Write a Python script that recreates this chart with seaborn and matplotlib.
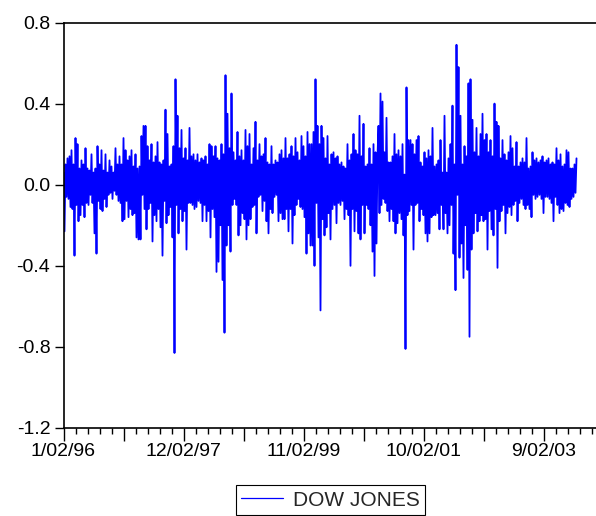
import numpy as np
import pandas as pd
import matplotlib
matplotlib.use("Agg")
import matplotlib.pyplot as plt
import seaborn as sns
from matplotlib.ticker import FixedLocator, FixedFormatter

# Daily Dow Jones series, sampled every 4th trading day, grouped by year
dj_1996 = [0.06, -0.23, 0.10, -0.06, 0.13, -0.07, 0.14, -0.11, 0.17, -0.12, 0.10, -0.35,
           0.23, -0.10, 0.20, -0.18, 0.08, -0.15, 0.12, -0.10, 0.10, -0.16, 0.18, -0.09,
           0.08, -0.10, 0.07, -0.05, 0.15, -0.09, 0.06, -0.24, 0.08, -0.34, 0.19, -0.08,
           0.10, -0.12, 0.17, -0.13, 0.07, -0.07, 0.15, -0.11, 0.06, -0.05, 0.12, -0.04,
           0.09, -0.07, 0.06, -0.03, 0.18, -0.05, 0.10, -0.08, 0.14, -0.09, 0.10, -0.18,
           0.23, -0.17, 0.17]
dj_1997 = [-0.08, 0.12, -0.16, 0.14, -0.12, 0.17, -0.15, 0.09, -0.14, 0.15, -0.26, 0.08,
           -0.27, 0.09, -0.27, 0.24, -0.05, 0.29, -0.12, 0.29, -0.22, 0.19, -0.12, 0.12,
           -0.09, 0.20, -0.28, 0.11, -0.15, 0.14, -0.18, 0.21, -0.12, 0.11, -0.21, 0.10,
           -0.35, 0.12, -0.08, 0.37, -0.19, 0.25, -0.15, 0.09, -0.11, 0.10, -0.26, 0.19,
           -0.83, 0.52, -0.10, 0.34, -0.24, 0.18, -0.12, 0.27, -0.18, 0.13, -0.13, 0.18,
           -0.32, 0.12, -0.09]
dj_1998 = [0.28, -0.09, 0.14, -0.10, 0.15, -0.12, 0.12, -0.11, 0.15, -0.08, 0.11, -0.09,
           0.13, -0.18, 0.12, -0.10, 0.14, -0.18, 0.10, -0.13, 0.20, -0.26, 0.19, -0.12,
           0.14, -0.16, 0.19, -0.43, 0.13, -0.38, 0.12, -0.20, 0.20, -0.47, 0.15, -0.73,
           0.54, -0.30, 0.35, -0.20, 0.18, -0.33, 0.45, -0.10, 0.16, -0.07, 0.12, -0.10,
           0.26, -0.25, 0.14, -0.20, 0.17, -0.14, 0.12, -0.17, 0.27, -0.27, 0.19, -0.20,
           0.25, -0.17, 0.10]
dj_1999 = [-0.11, 0.18, -0.10, 0.31, -0.24, 0.12, -0.06, 0.20, -0.05, 0.14, -0.13, 0.15,
           -0.08, 0.23, -0.18, 0.11, -0.24, 0.10, -0.12, 0.19, -0.14, 0.10, -0.06, 0.12,
           -0.05, 0.11, -0.18, 0.15, -0.14, 0.17, -0.17, 0.13, -0.17, 0.23, -0.12, 0.13,
           -0.23, 0.15, -0.12, 0.19, -0.29, 0.14, -0.15, 0.23, -0.10, 0.16, -0.07, 0.12,
           -0.11, 0.24, -0.12, 0.19, -0.16, 0.14, -0.34, 0.26, -0.24, 0.20, -0.30, 0.20,
           -0.30, 0.26, -0.40]
dj_2000 = [0.52, -0.09, 0.29, -0.26, 0.20, -0.62, 0.29, -0.17, 0.23, -0.25, 0.13, -0.21,
           0.24, -0.14, 0.10, -0.27, 0.15, -0.12, 0.16, -0.10, 0.13, -0.19, 0.14, -0.09,
           0.10, -0.10, 0.11, -0.08, 0.09, -0.17, 0.08, -0.12, 0.20, -0.15, 0.12, -0.40,
           0.15, -0.12, 0.25, -0.23, 0.17, -0.13, 0.15, -0.24, 0.34, -0.27, 0.14, -0.10,
           0.30, -0.24, 0.09, -0.10, 0.10, -0.12, 0.18, -0.20, 0.10, -0.33, 0.20, -0.45,
           0.16, -0.29, 0.14]
dj_2001 = [0.29, -0.14, 0.45, -0.10, 0.41, -0.07, 0.16, -0.09, 0.33, -0.13, 0.11, -0.18,
           0.11, -0.12, 0.14, -0.18, 0.25, -0.24, 0.15, -0.19, 0.17, -0.14, 0.14, -0.17,
           0.20, -0.25, 0.05, -0.81, 0.48, -0.15, 0.22, -0.13, 0.22, -0.10, 0.20, -0.32,
           0.15, -0.10, 0.22, -0.09, 0.24, -0.18, 0.11, -0.12, 0.09, -0.15, 0.16, -0.24,
           0.13, -0.28, 0.17, -0.24, 0.14, -0.16, 0.28, -0.15, 0.09, -0.15, 0.10, -0.14,
           0.12, -0.22, 0.22]
dj_2002 = [-0.10, 0.06, -0.22, 0.34, -0.14, 0.06, -0.24, 0.13, -0.20, 0.20, -0.10, 0.39,
           -0.34, 0.10, -0.52, 0.69, -0.05, 0.58, -0.36, 0.34, -0.29, 0.10, -0.46, 0.19,
           -0.20, 0.14, -0.42, 0.50, -0.75, 0.52, -0.32, 0.32, -0.24, 0.16, -0.14, 0.28,
           -0.23, 0.14, -0.18, 0.25, -0.15, 0.35, -0.18, 0.22, -0.17, 0.25, -0.32, 0.16,
           -0.13, 0.22, -0.22, 0.14, -0.25, 0.40, -0.12, 0.31, -0.41, 0.29, -0.18, 0.13,
           -0.13, 0.22, -0.10]
dj_2003 = [0.15, -0.24, 0.12, -0.14, 0.16, -0.11, 0.24, -0.15, 0.18, -0.10, 0.09, -0.08,
           0.21, -0.18, 0.09, -0.09, 0.11, -0.07, 0.13, -0.10, 0.11, -0.12, 0.23, -0.10,
           0.08, -0.12, 0.09, -0.16, 0.16, -0.05, 0.12, -0.07, 0.13, -0.06, 0.11, -0.05,
           0.12, -0.07, 0.14, -0.14, 0.11, -0.06, 0.12, -0.06, 0.13, -0.07, 0.10, -0.09,
           0.11, -0.18, 0.10, -0.06, 0.18, -0.10, 0.12, -0.14, 0.15, -0.12, 0.09, -0.13,
           0.10, -0.09, 0.17]
dj_2004 = [-0.10, 0.16, -0.11, 0.08, -0.07, 0.08, -0.06, 0.10, -0.04, 0.13]

series_name = "DOW JONES"
obs_step = 4  # trading days between stored samples

date_labels = ["1/02/96", "12/02/97", "11/02/99", "10/02/01", "9/02/03"]
label_every = 480   # observations between date labels
long_every = 240    # observations between long ticks
minor_every = 48    # observations between short ticks
y_ticks = [-1.2, -0.8, -0.4, 0.0, 0.4, 0.8]

values = np.concatenate([dj_1996, dj_1997, dj_1998, dj_1999, dj_2000,
                         dj_2001, dj_2002, dj_2003, dj_2004])
df = pd.DataFrame({"obs": np.arange(len(values)) * obs_step, "value": values})

sns.set_style("white")
plt.rcParams["font.family"] = ["Liberation Sans", "DejaVu Sans"]
plt.rcParams["axes.unicode_minus"] = False

W, H = 596, 516
fig = plt.figure(figsize=(W / 100, H / 100), dpi=100)
left, top, bottom = 63.5, 22.5, 428.0
ax = fig.add_axes([left / W, 1 - bottom / H, 1 - left / W, (bottom - top) / H])

sns.lineplot(data=df, x="obs", y="value", ax=ax, color="#0000FF",
             linewidth=1.3, label=series_name, legend=False)

x_max = (W - left) * obs_step
ax.set_xlim(0, x_max)
ax.set_ylim(-1.2, 0.8)

major_pos = np.arange(0, x_max, long_every)
major_lab = [date_labels[int(p // label_every)] if p % label_every == 0 else ""
             for p in major_pos]
ax.xaxis.set_major_locator(FixedLocator(major_pos))
ax.xaxis.set_major_formatter(FixedFormatter(major_lab))
minor_pos = [p for p in np.arange(0, x_max, minor_every) if p % long_every != 0]
ax.xaxis.set_minor_locator(FixedLocator(minor_pos))

ax.set_yticks(y_ticks)
ax.set_yticklabels([f"{v:.1f}" for v in y_ticks])

ax.set_xlabel("")
ax.set_ylabel("")
for side in ("left", "top", "bottom"):
    ax.spines[side].set_visible(True)
    ax.spines[side].set_color("black")
    ax.spines[side].set_linewidth(1.2)
ax.spines["right"].set_visible(False)

ax.tick_params(axis="x", which="major", direction="out", length=9, width=1.0,
               colors="black", labelsize=14, pad=2, bottom=True, top=False)
ax.tick_params(axis="x", which="minor", direction="out", length=4.5, width=1.0,
               colors="black", bottom=True, top=False)
ax.tick_params(axis="y", which="major", direction="out", length=6.5, width=1.0,
               colors="black", labelsize=14, pad=3, left=True, right=False)

handle = plt.Line2D([], [], color="#0000FF", linewidth=0.9)
leg = ax.legend([handle], [series_name], loc="center",
                bbox_to_anchor=(330.5 / W, 1 - 500 / H), bbox_transform=fig.transFigure,
                frameon=True, fancybox=False, edgecolor="black", framealpha=1,
                fontsize=15, handlelength=2.0, handletextpad=0.5,
                borderpad=0.25, borderaxespad=0)
leg.get_frame().set_linewidth(0.8)

fig.savefig("out.png", dpi=100)
